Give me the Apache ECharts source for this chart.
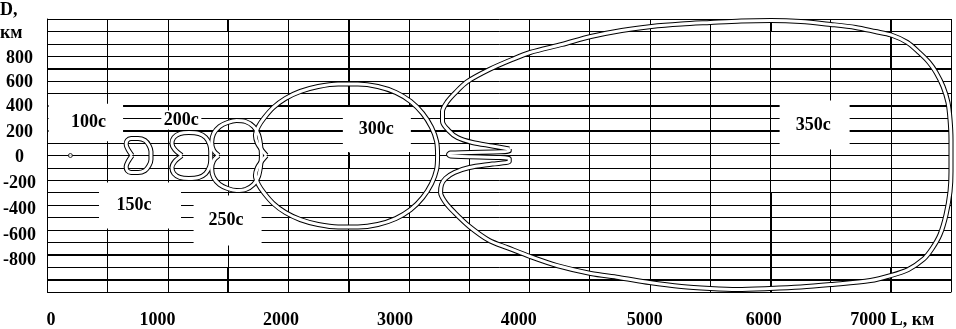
<!DOCTYPE html>
<html>
<head>
<meta charset="utf-8">
<script src="https://cdn.jsdelivr.net/npm/echarts@6/dist/echarts.min.js"></script>
<style>html,body{margin:0;padding:0;background:#fff;}#c{width:956px;height:329px;}</style>
</head>
<body>
<div id="c"></div>
<script>
// ---- data (L, km ; D, km) ----
const xTickValues = [0, 1000, 2000, 3000, 4000, 5000, 6000, 7000];
const xTickLabels = ['0', '1000', '2000', '3000', '4000', '5000', '6000', '7000 L, км'];
const yTickValues = [800, 600, 400, 200, 0, -200, -400, -600, -800];
const yTickLabels = ['800', '600', '400', '200', '0', '-200', '-400', '-600', '-800'];

const point100 = [[190, 0]];
const curve150 = [[702,0],[669,48],[653,89],[661,121],[694,137],[752,137],[809,121],[843,81],[859,32],[859,-32],[843,-81],[809,-121],[752,-137],[694,-137],[661,-121],[653,-89],[669,-48],[702,0]];
const curve200 = [[1115,0],[1057,48],[1033,97],[1049,145],[1099,177],[1173,185],[1256,177],[1313,145],[1346,89],[1355,32],[1355,-32],[1346,-89],[1313,-145],[1256,-177],[1173,-185],[1099,-177],[1049,-145],[1033,-97],[1057,-48],[1115,0]];
const curve250 = [[1421,0],[1379,40],[1363,105],[1379,177],[1429,234],[1495,266],[1569,282],[1644,274],[1710,234],[1751,169],[1768,89],[1776,0],[1768,-89],[1751,-169],[1710,-234],[1644,-274],[1569,-282],[1495,-266],[1429,-234],[1379,-177],[1363,-105],[1379,-40],[1421,0]];
const curve300 = [[1817,0],[1776,48],[1743,97],[1726,161],[1751,234],[1801,306],[1875,387],[1974,459],[2098,516],[2247,556],[2412,576],[2577,576],[2742,556],[2891,508],[3015,435],[3114,339],[3188,226],[3230,113],[3238,0],[3230,-113],[3188,-226],[3114,-339],[3015,-435],[2891,-508],[2742,-556],[2577,-576],[2412,-576],[2247,-556],[2098,-516],[1974,-459],[1875,-387],[1801,-306],[1751,-234],[1726,-161],[1743,-97],[1776,-48],[1817,0]];
const curve350 = [[3833,52],[3692,77],[3527,105],[3403,145],[3329,202],[3279,274],[3279,355],[3320,435],[3387,508],[3486,596],[3667,693],[3857,774],[4006,830],[4270,895],[4510,959],[4766,1008],[5014,1040],[5262,1060],[5501,1072],[5757,1084],[6005,1088],[6253,1080],[6501,1056],[6707,1032],[6872,999],[7004,971],[7137,911],[7236,830],[7318,750],[7376,669],[7434,556],[7475,427],[7492,290],[7500,129],[7500,0],
  [7500,-129],[7492,-290],[7459,-476],[7409,-637],[7343,-750],[7269,-838],[7145,-919],[7004,-967],[6831,-1008],[6501,-1040],[6253,-1060],[5997,-1072],[5724,-1080],[5501,-1072],[5262,-1056],[4997,-1024],[4741,-983],[4510,-951],[4229,-887],[4006,-814],[3816,-742],[3667,-685],[3502,-572],[3378,-459],[3304,-379],[3263,-298],[3271,-234],[3304,-185],[3378,-137],[3502,-97],[3692,-69],[3833,-48],
  [3833,-24],[3345,-4],[3329,8],[3345,20],[3833,36],[3833,52]];

const labelText = ['100c', '150c', '200c', '250c', '300c', '350c'];
const labelL = [318, 768, 1111, 1495, 2734, 6368];
const labelD = [266, -403, 286, -524, 210, 246];

// heavier grid lines (values on axes)
const thickRows = [700, 400, 200, -800, -1000];
const thickCols = [[1500, 1100, 1000], [1500, -900, -1100], [2500, 1100, 400], [2500, 25, -100], [2500, -1000, -1100], [6000, 1100, 1000], [6000, -300, -1100], [7000, 1100, 700], [7000, -900, -1100]];

// ---- styles ----
const FONT = 'Liberation Serif';
const xShift = [3.5, -10.5, -7.5, -14, -10.5, -5, -6.5, 1.5];
const yShift = [2, 1, 0.5, 1.5, 2, 3, 4, 5.5, 6];
const labelPad = [[12,16.5,7.5,22], [19.5,29,8.5,17], [1,2,0,2], [11.5,17.5,20.5,14.5], [9,16.5,18,15.5], [11.5,18.5,19.5,15.5]];

const xRich = {}, yRich = {};
xShift.forEach((s, i) => {
  xRich['x' + i] = {fontSize: 18, fontWeight: 'bold', fontFamily: FONT, color: '#000',
    padding: s < 0 ? [0, -2 * s, 0, 0] : [0, 0, 0, 2 * s]};
});
yShift.forEach((s, i) => {
  yRich['y' + i] = {fontSize: 18, fontWeight: 'bold', fontFamily: FONT, color: '#000', padding: [2 * s, 0, 0, 0]};
});

const curves = [curve150, curve200, curve250, curve300, curve350];
const series = [];

series.push({
  type: 'lines', coordinateSystem: 'cartesian2d', z: 1, silent: true,
  lineStyle: {color: '#000', width: 2, opacity: 1, curveness: 0},
  data: thickRows.map(v => ({coords: [[0, v], [7500, v]]}))
    .concat(thickCols.map(c => ({coords: [[c[0], c[1]], [c[0], c[2]]]})))
});

series.push({
  type: 'scatter', z: 2, silent: true, symbolSize: 1,
  itemStyle: {color: '#fff', opacity: 1},
  data: labelText.map((t, i) => ({name: t, value: [labelL[i], labelD[i]], label: {padding: labelPad[i]}})),
  label: {show: true, position: 'inside', formatter: '{b}', backgroundColor: '#fff',
    width: 36, height: 18, lineHeight: 18, align: 'center', verticalAlign: 'middle',
    fontSize: 18, fontWeight: 'bold', fontFamily: FONT, color: '#000', opacity: 1,
    textBorderWidth: 0, textBorderColor: 'transparent', textShadowBlur: 0}
});

curves.forEach(c => series.push({
  type: 'line', z: 3, silent: true, data: c, showSymbol: false, smooth: 0.3,
  lineStyle: {color: '#000', width: 5}
}));
curves.forEach(c => series.push({
  type: 'line', z: 4, silent: true, data: c, showSymbol: false, smooth: 0.3,
  lineStyle: {color: '#fff', width: 3}
}));
series.push({
  type: 'scatter', z: 5, silent: true, data: point100, symbol: 'circle', symbolSize: 4,
  itemStyle: {color: '#fff', borderColor: '#000', borderWidth: 1}
});

const chart = echarts.init(document.getElementById('c'), null, {renderer: 'canvas'});
chart.setOption({
  animation: false,
  backgroundColor: '#fff',
  grid: {left: 43, right: 5, top: 19, bottom: 37, containLabel: false},
  xAxis: {
    type: 'value', min: 0, max: 7500, interval: 500,
    axisLine: {show: true, onZero: false, lineStyle: {color: '#000', width: 1}},
    axisTick: {show: false},
    splitLine: {show: true, lineStyle: {color: '#000', width: 1}},
    axisLabel: {
      margin: 19, showMinLabel: true, showMaxLabel: true,
      formatter: v => { const i = xTickValues.indexOf(v); return i < 0 ? '' : '{x' + i + '|' + xTickLabels[i] + '}'; },
      rich: xRich
    }
  },
  yAxis: {
    type: 'value', min: -1100, max: 1100, interval: 100,
    axisLine: {show: true, onZero: false, lineStyle: {color: '#000', width: 1}},
    axisTick: {show: false},
    splitLine: {show: true, lineStyle: {color: '#000', width: 1}},
    axisLabel: {
      margin: 28, align: 'center',
      formatter: v => { const i = yTickValues.indexOf(v); return i < 0 ? '' : '{y' + i + '|' + yTickLabels[i] + '}'; },
      rich: yRich
    }
  },
  graphic: [
    {type: 'text', left: 0, top: 1, style: {text: 'D,', fontSize: 18, fontWeight: 'bold', fontFamily: FONT, fill: '#000'}},
    {type: 'text', left: 0, top: 24, style: {text: 'км', fontSize: 18, fontWeight: 'bold', fontFamily: FONT, fill: '#000'}}
  ],
  series: series
});
</script>
</body>
</html>
